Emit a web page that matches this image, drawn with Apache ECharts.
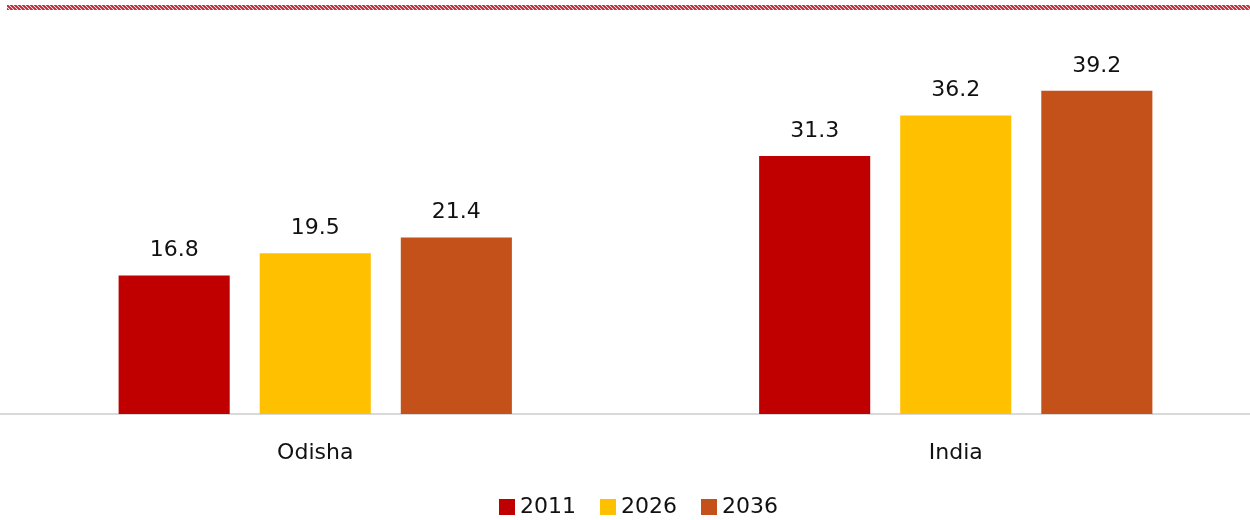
<!DOCTYPE html>
<html>
<head>
<meta charset="utf-8">
<script src="https://cdn.jsdelivr.net/npm/echarts@6/dist/echarts.min.js"></script>
<style>
  html, body { margin: 0; padding: 0; background: #fff; overflow: hidden; }
  #main { width: 1281px; height: 520px; margin-left: -5px; }
</style>
</head>
<body>
<div id="main"></div>
<script>
var categories = ['Odisha', 'India'];
var years = ['2011', '2026', '2036'];
var values2011 = [16.8, 31.3];
var values2026 = [19.5, 36.2];
var values2036 = [21.4, 39.2];
var colors = ['#c00000', '#ffc000', '#c4511a'];

// hatched band along the top edge
var hatch = document.createElement('canvas');
hatch.width = 4;
hatch.height = 4;
var hc = hatch.getContext('2d');
hc.fillStyle = '#ffffff';
hc.fillRect(0, 0, 4, 4);
hc.strokeStyle = '#c42838';
hc.lineWidth = 2;
hc.beginPath();
hc.moveTo(0, 0); hc.lineTo(4, 4);
hc.moveTo(-2, 2); hc.lineTo(2, 6);
hc.moveTo(2, -2); hc.lineTo(6, 2);
hc.stroke();

var chart = echarts.init(document.getElementById('main'));
var font = '"DejaVu Sans", sans-serif';

function barSeries(name, data, color) {
    return {
        name: name,
        type: 'bar',
        data: data,
        barGap: '27%',
        barCategoryGap: '38.6%',
        itemStyle: { color: color },
        label: {
            show: true,
            position: 'top',
            distance: 14,
            color: '#111',
            fontSize: 22,
            fontFamily: font
        }
    };
}

var option = {
    animation: false,
    graphic: [{
        type: 'rect',
        left: 12,
        top: 5,
        shape: { width: 1243, height: 5 },
        style: { fill: { image: hatch, repeat: 'repeat' } }
    }],
    grid: { left: 0, right: 0, top: 43, bottom: 106 },
    legend: {
        bottom: -3,
        left: 499,
        itemWidth: 16,
        itemHeight: 16,
        itemGap: 24,
        icon: 'rect',
        textStyle: { fontSize: 22, fontFamily: font, color: '#111' },
        data: years
    },
    xAxis: {
        type: 'category',
        data: categories,
        axisLine: { lineStyle: { color: '#d9d9d9', width: 2 } },
        axisTick: { show: false },
        axisLabel: { fontSize: 22, fontFamily: font, color: '#111', margin: 28 }
    },
    yAxis: {
        type: 'value',
        min: 0,
        max: 45,
        show: false,
        splitLine: { show: false }
    },
    series: [
        barSeries(years[0], values2011, colors[0]),
        barSeries(years[1], values2026, colors[1]),
        barSeries(years[2], values2036, colors[2])
    ]
};

chart.setOption(option);
</script>
</body>
</html>
